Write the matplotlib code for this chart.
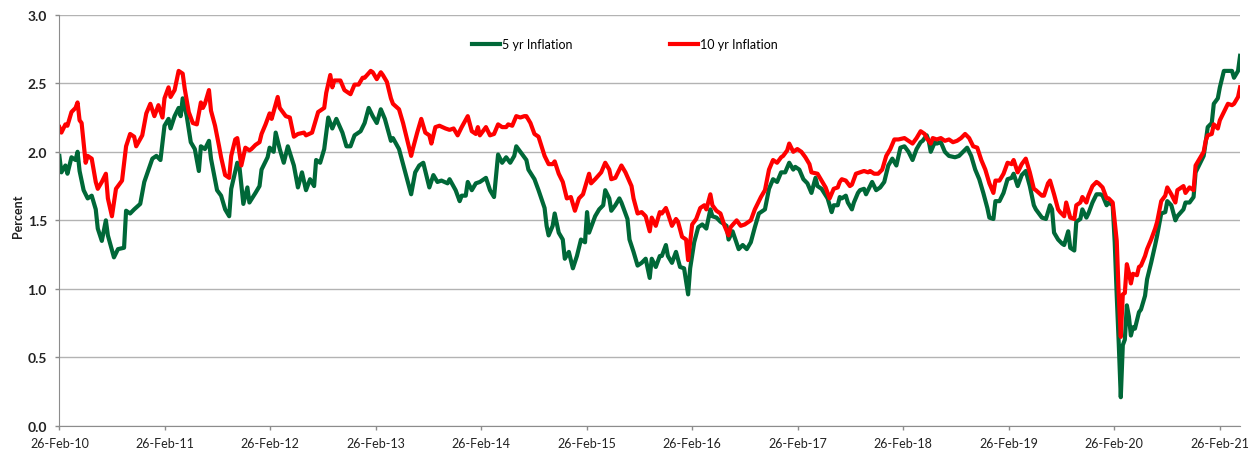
import matplotlib.pyplot as plt
import matplotlib.dates as mdates
from matplotlib.ticker import FormatStrFormatter
import pandas as pd

plt.rcParams['font.family'] = ['Lato', 'DejaVu Sans']

# weekly breakeven series, x = weeks since 26-Feb-2010
start = pd.Timestamp('2010-02-26')

weeks_5yr = [
    0, 1, 3, 4, 6, 8, 9, 10, 12, 14, 16, 18, 19, 21, 23, 24, 27, 29, 32, 33, 35, 37, 40, 42, 46, 48, 50,
    52, 54, 55, 57, 59, 60, 61, 63, 65, 67, 69, 70, 72, 74, 75, 78, 80, 82, 84, 85, 88, 89, 91, 93, 94, 97,
    99, 100, 103, 104, 106, 107, 109, 111, 113, 116, 118, 120, 122, 124, 126, 127, 129, 131, 133, 135, 137,
    140, 142, 144, 146, 149, 151, 153, 155, 157, 159, 161, 164, 165, 168, 170, 172, 174, 176, 178, 180, 182,
    183, 185, 187, 189, 192, 193,
    196, 198, 199, 201, 202, 204, 206, 208, 211, 213, 215, 217, 219, 221, 223, 225, 226, 228, 231, 232, 235,
    237, 240, 241, 242, 244, 245, 247, 249, 250, 252, 254, 256, 258, 260, 261, 262, 263, 265, 267, 269, 270,
    272, 273, 275, 277, 278, 281, 282, 284, 286, 288, 290,
    292, 293, 295, 297, 298, 300, 301, 303, 305, 307, 309, 311, 312, 314, 316, 318, 320, 322, 323, 325, 327,
    330, 331, 333, 336, 338, 340, 342, 344, 346, 349, 351, 353, 355, 357, 359, 361, 363, 364, 366, 368, 370,
    372, 374, 375, 377, 380, 382, 383, 385, 386,
    387, 389, 390, 392, 393, 395, 396, 398, 399, 401, 402, 404, 406, 408, 410, 412, 414, 416, 418, 420, 422,
    424, 426, 427, 429, 430, 431, 433, 434, 436, 438, 440, 443, 445, 447, 449, 451, 453, 455, 457, 459, 460,
    462, 463, 465, 467, 469, 471, 472, 474, 476, 478, 480, 482, 483,
    486, 488, 490, 491, 492, 494, 496, 497, 499, 500, 502, 503, 505, 506, 508, 509, 511, 513, 515, 516, 518,
    519, 521, 522, 523, 524, 525, 526, 527, 528, 529, 530, 531, 532, 534, 535, 537, 538, 540, 542, 543, 545,
    547, 548, 550, 552, 553, 556, 557, 559, 561, 562, 564, 566, 567, 568, 570, 571, 573, 574, 576, 578, 580,
    581, 583, 584,
]
infl_5yr = [
    1.97, 1.85, 1.90, 1.84, 1.96, 1.94, 2.00, 1.86, 1.72, 1.66, 1.68, 1.58, 1.44, 1.35, 1.50, 1.39, 1.23,
    1.29, 1.30, 1.57, 1.55, 1.58, 1.62, 1.78, 1.95, 1.97, 1.94,
    2.19, 2.24, 2.17, 2.26, 2.32, 2.26, 2.39, 2.26, 2.07, 2.02, 1.86, 2.04, 2.02, 2.08, 1.95, 1.72, 1.68,
    1.58, 1.53, 1.73, 1.92, 1.90, 1.62, 1.74, 1.63, 1.70,
    1.75, 1.87, 1.96, 2.03, 2.00, 2.14, 2.02, 1.92, 2.04, 1.90, 1.74, 1.85, 1.72, 1.80, 1.75, 1.94, 1.92,
    2.02, 2.25, 2.17, 2.24, 2.14, 2.04, 2.04, 2.12, 2.15, 2.21, 2.32, 2.26, 2.21, 2.31, 2.24, 2.08, 2.10,
    2.02, 1.91, 1.80, 1.69, 1.85, 1.90, 1.92, 1.80, 1.74, 1.83, 1.78, 1.79, 1.77, 1.80,
    1.72, 1.64, 1.68, 1.68, 1.78, 1.72, 1.77, 1.78, 1.81, 1.72, 1.67, 1.98, 1.92, 1.96, 1.92, 1.97, 2.04,
    2.00, 1.94, 1.87, 1.80, 1.72, 1.59, 1.46, 1.39, 1.46, 1.55, 1.41, 1.36, 1.22, 1.27, 1.15, 1.24, 1.36,
    1.34, 1.56, 1.41, 1.45, 1.53, 1.58, 1.61, 1.72, 1.66, 1.57, 1.61, 1.66, 1.63, 1.51, 1.36, 1.27, 1.17,
    1.19, 1.22,
    1.08, 1.22, 1.16, 1.24, 1.24, 1.32, 1.24, 1.19, 1.27, 1.16, 1.15, 0.96, 1.15, 1.34, 1.45, 1.47, 1.44,
    1.58, 1.53, 1.52, 1.49, 1.46, 1.36, 1.42, 1.29, 1.32, 1.29, 1.34, 1.45, 1.55, 1.58, 1.73, 1.80, 1.78,
    1.85, 1.85, 1.92, 1.87, 1.89, 1.87, 1.80, 1.77, 1.70, 1.81, 1.75, 1.73, 1.66, 1.56, 1.61, 1.61, 1.67,
    1.66, 1.68, 1.63, 1.58, 1.63, 1.70, 1.72, 1.73, 1.69, 1.75, 1.78, 1.72, 1.74, 1.78, 1.90, 1.95, 1.90,
    2.03, 2.04, 2.00, 1.94, 2.02, 2.07, 2.08, 2.12, 2.08, 2.00, 2.07, 2.06, 2.07, 2.00, 1.97, 1.96, 1.97,
    2.00, 2.03, 1.97, 1.87, 1.80, 1.70, 1.59, 1.52, 1.51, 1.64, 1.64, 1.70, 1.80, 1.81, 1.84, 1.75, 1.83,
    1.86, 1.75, 1.61, 1.58,
    1.52, 1.51, 1.61, 1.58, 1.41, 1.36, 1.33, 1.32, 1.42, 1.30, 1.28, 1.49, 1.51, 1.58, 1.52, 1.55, 1.63,
    1.69, 1.69, 1.68, 1.61, 1.63, 1.61, 1.34, 0.95, 0.60, 0.21, 0.59, 0.63, 0.88, 0.80, 0.66, 0.72, 0.71,
    0.83, 0.85, 0.95, 1.07, 1.19, 1.32, 1.39, 1.55, 1.56, 1.64, 1.61, 1.50, 1.53, 1.58, 1.63, 1.63, 1.67,
    1.85, 1.91, 1.97, 2.07, 2.18, 2.21, 2.35, 2.39, 2.47, 2.59, 2.59, 2.59, 2.54, 2.59, 2.70,
]

weeks_10yr = [
    0, 1, 3, 4, 6, 8, 9, 10, 11, 13, 14, 16, 18, 19, 21, 23, 24, 26, 28, 31, 33, 35, 37, 38, 41, 43, 45,
    47, 49, 51, 52, 54, 55, 57, 59, 61, 62, 64, 66, 68, 70, 71, 72, 74, 75, 77, 79, 80, 82, 84, 85, 87, 88,
    90, 92, 94, 95, 97,
    99, 100, 102, 104, 105, 108, 109, 112, 114, 116, 118, 121, 122, 125, 127, 128, 131, 132, 134, 135, 136,
    139, 141, 144, 146, 148, 150, 151, 154, 155, 157, 159, 160, 162, 164, 165, 168, 170, 172, 174, 175, 177,
    179, 181, 183, 184, 186, 188, 191, 193,
    195, 197, 199, 202, 204, 206, 207, 208, 211, 213, 215, 217, 219, 221, 222, 224, 226, 228, 230, 231, 233,
    235, 237, 240, 242, 244, 245, 247, 249, 251, 253, 255, 257, 259, 262, 263, 265, 268, 270, 272, 273, 275,
    278, 280, 283, 284, 286, 288, 290,
    292, 293, 295, 297, 298, 300, 301, 303, 305, 306, 308, 310, 311, 313, 315, 317, 319, 320, 322, 323, 325,
    327, 329, 331, 332, 335, 337, 339, 342, 344, 347, 349, 351, 353, 355, 357, 358, 360, 361, 363, 365, 367,
    369, 371, 372, 375, 377, 379, 381, 383, 385, 386,
    387, 389, 391, 392, 394, 396, 398, 400, 401, 403, 405, 407, 409, 411, 413, 415, 418, 420, 422, 424, 426,
    428, 429, 431, 432, 434, 436, 438, 440, 442, 444, 446, 448, 450, 452, 454, 456, 458, 460, 462, 463, 465,
    467, 469, 471, 472, 474, 476, 478, 480, 482, 483,
    486, 487, 489, 490, 492, 494, 495, 497, 498, 500, 502, 503, 505, 506, 508, 509, 511, 513, 514, 516, 518,
    519, 521, 522, 523, 524, 525, 526, 527, 528, 529, 530, 531, 533, 534, 535, 537, 538, 540, 542, 543, 545,
    547, 548, 550, 552, 553, 556, 557, 559, 561, 562, 564, 566, 567, 568, 570, 571, 573, 574, 576, 578, 580,
    581, 583, 584,
]
infl_10yr = [
    2.18, 2.14, 2.20, 2.19, 2.29, 2.32, 2.36, 2.23, 2.21, 1.92, 1.97, 1.95, 1.78, 1.73, 1.78, 1.84, 1.66,
    1.53, 1.73, 1.79, 2.04, 2.13, 2.11, 2.04, 2.12, 2.28, 2.35,
    2.26, 2.34, 2.25, 2.39, 2.47, 2.40, 2.45, 2.59, 2.57, 2.46, 2.29, 2.21, 2.20, 2.36, 2.32, 2.35, 2.45,
    2.30, 2.19, 2.04, 1.96, 1.83, 1.81, 1.97, 2.09, 2.10, 1.90, 2.03, 2.01, 2.02, 2.05,
    2.07, 2.13, 2.20, 2.28, 2.24, 2.40, 2.32, 2.26, 2.25, 2.11, 2.13, 2.14, 2.12, 2.14, 2.24, 2.29, 2.32,
    2.43, 2.56, 2.47, 2.52, 2.52, 2.45, 2.42, 2.49, 2.49, 2.54, 2.54, 2.59, 2.58, 2.53, 2.58, 2.56, 2.51,
    2.39, 2.35, 2.31, 2.21, 2.09, 1.97, 2.03, 2.14, 2.24, 2.14, 2.12, 2.06, 2.18, 2.19, 2.17, 2.16,
    2.17, 2.12, 2.18, 2.26, 2.15, 2.13, 2.18, 2.12, 2.18, 2.12, 2.13, 2.20, 2.18, 2.18, 2.20, 2.19, 2.26,
    2.25, 2.26, 2.26, 2.21, 2.13, 2.11, 1.97, 1.91, 1.91, 1.93, 1.84, 1.78, 1.66, 1.67, 1.57, 1.66, 1.69,
    1.84, 1.77, 1.80, 1.85, 1.92, 1.87, 1.80, 1.81, 1.90, 1.85, 1.75, 1.66, 1.55, 1.56, 1.53,
    1.42, 1.52, 1.46, 1.56, 1.55, 1.59, 1.55, 1.46, 1.51, 1.49, 1.38, 1.36, 1.21, 1.47, 1.51, 1.59, 1.61,
    1.58, 1.69, 1.61, 1.57, 1.55, 1.46, 1.39, 1.45, 1.50, 1.46, 1.47, 1.50, 1.58, 1.67, 1.72, 1.87, 1.94,
    1.92, 1.96, 1.97, 2.01, 2.06, 2.00, 2.02, 2.00, 1.96, 1.91, 1.85, 1.84, 1.79, 1.74, 1.66, 1.73, 1.74,
    1.78,
    1.80, 1.79, 1.75, 1.76, 1.84, 1.85, 1.86, 1.85, 1.86, 1.84, 1.84, 1.87, 1.97, 2.02, 2.09, 2.09, 2.10,
    2.08, 2.06, 2.10, 2.15, 2.13, 2.10, 2.06, 2.10, 2.09, 2.10, 2.08, 2.09, 2.07, 2.08, 2.10, 2.13, 2.10,
    2.04, 2.03, 1.94, 1.87, 1.77, 1.70, 1.79, 1.79, 1.84, 1.92, 1.91, 1.94, 1.85, 1.91, 1.95, 1.85, 1.73,
    1.72,
    1.68, 1.68, 1.77, 1.79, 1.69, 1.58, 1.56, 1.53, 1.63, 1.52, 1.51, 1.61, 1.63, 1.67, 1.63, 1.68, 1.75,
    1.78, 1.77, 1.74, 1.66, 1.66, 1.63, 1.49, 1.35, 0.95, 0.65, 0.96, 0.97, 1.18, 1.12, 1.04, 1.11, 1.10,
    1.16, 1.17, 1.24, 1.29, 1.36, 1.44, 1.49, 1.64, 1.68, 1.74, 1.69, 1.63, 1.72, 1.75, 1.70, 1.74, 1.72,
    1.90, 1.95, 2.00, 2.08, 2.12, 2.13, 2.20, 2.17, 2.23, 2.29, 2.35, 2.34, 2.35, 2.40, 2.47,
]

dates_5yr = [start + pd.Timedelta(weeks=w) for w in weeks_5yr]
dates_10yr = [start + pd.Timedelta(weeks=w) for w in weeks_10yr]
tick_dates = [pd.Timestamp(f'{y}-02-26') for y in range(2010, 2022)]

fig = plt.figure(figsize=(12.55, 4.52), dpi=100)
ax = fig.add_axes([0.0473, 0.0553, 0.9408, 0.9100])

ax.plot(dates_5yr, infl_5yr, color='#006838', lw=3, label='5 yr Inflation', solid_joinstyle='round')
ax.plot(dates_10yr, infl_10yr, color='#ff0000', lw=3, label='10 yr Inflation', solid_joinstyle='round')

ax.set_ylim(0, 3)
ax.set_yticks([0, 0.5, 1.0, 1.5, 2.0, 2.5, 3.0])
ax.yaxis.set_major_formatter(FormatStrFormatter('%.1f'))
ax.set_xlim(start, dates_10yr[-1])
ax.set_xticks(tick_dates)
ax.xaxis.set_major_formatter(mdates.DateFormatter('%d-%b-%y'))

ax.yaxis.grid(True, color='#b3b3b3', lw=1)
ax.set_axisbelow(True)
for side in ['top', 'right']:
    ax.spines[side].set_visible(False)
for side in ['left', 'bottom']:
    ax.spines[side].set_color('#8c8c8c')
ax.tick_params(axis='both', colors='#8c8c8c', length=3, width=1, labelcolor='#222222')
ax.tick_params(axis='x', labelsize=9, pad=5)
ax.tick_params(axis='y', labelsize=10, pad=6)
for lbl in ax.get_yticklabels():
    lbl.set_fontweight('bold')

fig.text(18 / 1255, 0.521, 'Percent', rotation=90, ha='center', va='center',
         fontsize=9, fontweight='bold', color='#222222')

ax.legend(loc='center', bbox_to_anchor=(0.479, 0.929), ncol=2, frameon=False, fontsize=9,
          handlelength=2.2, handletextpad=0.2, columnspacing=7.8)

fig.savefig('out.png', dpi=100)
